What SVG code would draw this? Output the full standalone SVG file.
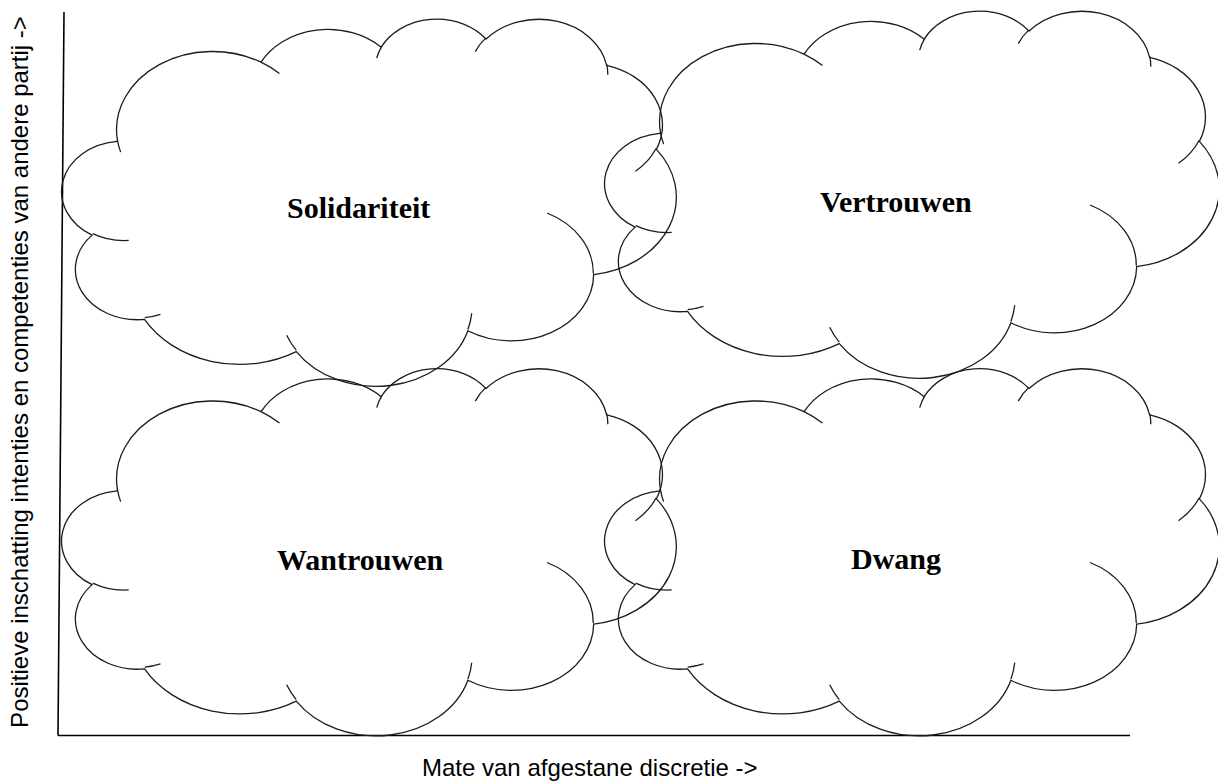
<svg xmlns="http://www.w3.org/2000/svg" xmlns:xlink="http://www.w3.org/1999/xlink" width="1218" height="781" viewBox="0 0 1218 781">
<style>
.cl{fill:none;stroke:#1c1c1c;stroke-width:1.3;vector-effect:non-scaling-stroke;stroke-linecap:butt}
.lbl{font-family:"Liberation Serif","Times New Roman",serif;font-weight:bold;font-size:30px;fill:#000}
.ax{font-family:"Liberation Sans",Arial,sans-serif;font-size:24px;fill:#000}
.axis{stroke:#000;stroke-width:1.6;fill:none}
</style>
<defs>
<path id="cloudOut" class="cl" d="M 3900 14370 A 6753 9190 0 0 1 14005 5202 A 5333 7267 0 0 1 22458 3432 A 4365 5945 0 0 1 29835 2481 A 4857 6595 0 0 1 38319 5576 A 5333 7273 0 0 1 41820 15460 A 6775 9220 0 0 1 37407 30205 A 5785 7867 0 0 1 28558 36815 A 6752 9215 0 0 1 16484 39271 A 7720 10543 0 0 1 5809 35477 A 4360 5918 0 0 1 2116 25558 A 4345 5945 0 0 1 3866 14514 Z"/>
<path id="cloudIn" class="cl" d="M 4693 26177 A 4345 5945 0 0 1 2160 25380 M 6928 34899 A 4360 5918 0 0 1 5820 35280 M 16478 39090 A 6752 9215 0 0 1 15808 37345 M 28827 34751 A 6752 9215 0 0 1 28560 36660 M 34129 22954 A 5785 7867 0 0 1 37380 30090 M 41798 15354 A 5333 7273 0 0 1 40350 18029 M 38324 5426 A 4857 6595 0 0 1 38400 6690 M 29078 3952 A 4857 6595 0 0 1 29820 2339 M 22141 4720 A 4365 5945 0 0 1 22500 3330 M 14000 5192 A 6753 9190 0 0 1 15300 6541 M 4127 15789 A 6753 9190 0 0 1 3900 14371"/>
</defs>
<g id="axes">
<line class="axis" x1="64" y1="12" x2="58" y2="735.5"/>
<line class="axis" x1="58" y1="735.5" x2="1130" y2="735.5"/>
<text class="ax" transform="translate(28,372) rotate(-90)" text-anchor="middle" font-size="23.5">Positieve inschatting intenties en competenties van andere partij -&gt;</text>
<text class="ax" x="422" y="776">Mate van afgestane discretie -&gt;</text>
</g>
<g id="solidariteit">
<use href="#cloudOut" transform="translate(62,18) scale(0.014213,0.0084954)"/>
<use href="#cloudIn" transform="translate(62,18) scale(0.014213,0.0084954)"/>
<text class="lbl" x="287" y="218">Solidariteit</text>
</g>
<g id="vertrouwen">
<use href="#cloudOut" transform="translate(605,10) scale(0.014213,0.0084954)"/>
<use href="#cloudIn" transform="translate(605,10) scale(0.014213,0.0084954)"/>
<text class="lbl" x="820" y="212">Vertrouwen</text>
</g>
<g id="wantrouwen">
<use href="#cloudOut" transform="translate(62,367.5) scale(0.014213,0.0084954)"/>
<use href="#cloudIn" transform="translate(62,367.5) scale(0.014213,0.0084954)"/>
<text class="lbl" x="277" y="570">Wantrouwen</text>
</g>
<g id="dwang">
<use href="#cloudOut" transform="translate(605,367.5) scale(0.014213,0.0084954)"/>
<use href="#cloudIn" transform="translate(605,367.5) scale(0.014213,0.0084954)"/>
<text class="lbl" x="851" y="569">Dwang</text>
</g>
</svg>
